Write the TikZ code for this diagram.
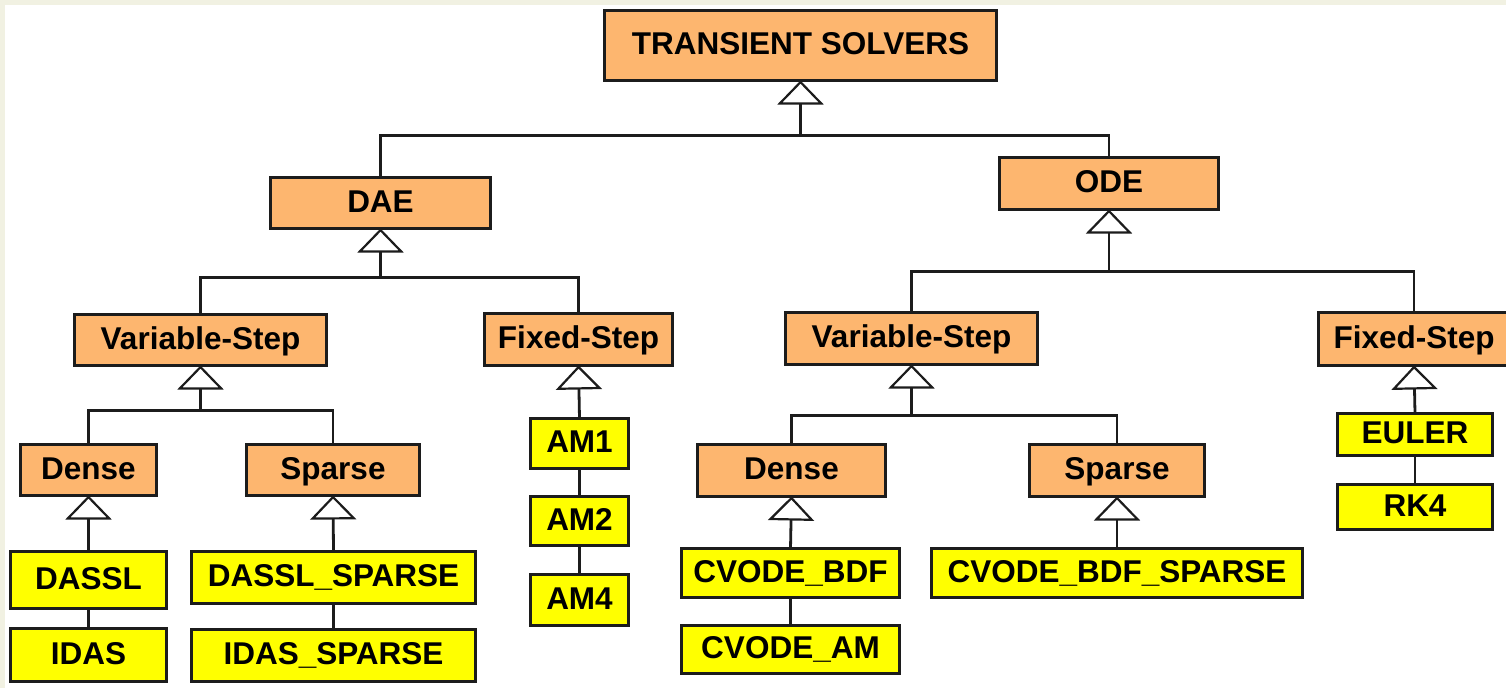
\documentclass[tikz,border=0pt]{standalone}
\usepackage{fontspec}
\setmainfont{Liberation Sans}
\usetikzlibrary{arrows.meta}

\definecolor{classfill}{HTML}{FDB66F}
\definecolor{leaffill}{HTML}{FFFF00}
\definecolor{inkline}{HTML}{1C1C1C}
\definecolor{paperedge}{HTML}{F1F1E2}

\tikzset{
  box/.style={draw=inkline, line width=3.2pt, inner sep=0pt, outer sep=0pt,
    text height=22pt, text depth=4pt,
    font=\fontsize{31.5pt}{31.5pt}\selectfont\bfseries},
  obox/.style={box, fill=classfill},
  ybox/.style={box, fill=leaffill},
  conn/.style={draw=inkline, line width=2.8pt},
  gen/.style={conn, -{Triangle[fill=white, length=24pt, width=46pt, line width=2.2pt]}},
}

\begin{document}
\begin{tikzpicture}[x=1pt, y=-1pt]
\useasboundingbox (0,0) rectangle (1506,688);
\clip (0,0) rectangle (1506,688);
\fill[paperedge] (0,0) rectangle (1506,5);
\fill[paperedge] (0,0) rectangle (5,688);

% abstract solver classes
\node[obox, minimum width=392pt, minimum height=70pt] (ts)  at (800.5,45.5) {TRANSIENT SOLVERS};
\node[obox, minimum width=220pt, minimum height=51pt] (dae) at (380.5,203)  {DAE};
\node[obox, minimum width=219pt, minimum height=52pt] (ode) at (1109,183.5) {ODE};
\node[obox, minimum width=252pt, minimum height=51pt] (dvs) at (200.5,340)  {Variable-Step};
\node[obox, minimum width=188pt, minimum height=52pt] (dfs) at (578.5,339.5) {Fixed-Step};
\node[obox, minimum width=252pt, minimum height=52pt] (ovs) at (911.5,338.5) {Variable-Step};
\node[obox, minimum width=191pt, minimum height=53pt] (ofs) at (1414,339)   {Fixed-Step};
\node[obox, minimum width=136pt, minimum height=51pt] (dd)  at (88.5,470)   {Dense};
\node[obox, minimum width=173pt, minimum height=51pt] (ds)  at (333,470)    {Sparse};
\node[obox, minimum width=188pt, minimum height=52pt] (od)  at (791.5,470.5) {Dense};
\node[obox, minimum width=175pt, minimum height=52pt] (os)  at (1117,470.5) {Sparse};

% concrete solvers
\node[ybox, minimum width=156pt, minimum height=57pt] (dassl)   at (88.5,580)   {DASSL};
\node[ybox, minimum width=156pt, minimum height=53pt] (idas)    at (88.5,655)   {IDAS};
\node[ybox, minimum width=284pt, minimum height=52pt] (dasslsp) at (333.5,577.5) {DASSL\_SPARSE};
\node[ybox, minimum width=284pt, minimum height=52pt] (idassp)  at (333.5,655.5) {IDAS\_SPARSE};
\node[ybox, minimum width=98pt,  minimum height=50pt] (am1)     at (579.5,443.5) {AM1};
\node[ybox, minimum width=98pt,  minimum height=49pt] (am2)     at (579.5,521)   {AM2};
\node[ybox, minimum width=98pt,  minimum height=51pt] (am4)     at (579.5,600)   {AM4};
\node[ybox, minimum width=218pt, minimum height=49pt] (cvbdf)   at (790.5,573)   {CVODE\_BDF};
\node[ybox, minimum width=218pt, minimum height=48pt] (cvam)    at (790.5,649.5) {CVODE\_AM};
\node[ybox, minimum width=371pt, minimum height=49pt] (cvbdfsp) at (1117,573)    {CVODE\_BDF\_SPARSE};
\node[ybox, minimum width=155pt, minimum height=42pt] (euler)   at (1415,434.5) {EULER};
\node[ybox, minimum width=155pt, minimum height=45pt] (rk4)     at (1415,507)  {RK4};

% junctions where sibling branches meet
\path (ts.south)  ++(0,55) coordinate (jts);
\path (dae.south) ++(0,49) coordinate (jdae);
\path (ode.south) ++(0,62) coordinate (jode);
\path (dvs.south) ++(0,45) coordinate (jdvs);
\path (ovs.south) ++(0,51) coordinate (jovs);

% generalisation links
\draw[conn] (dae.north) |- (jts);
\draw[gen]  (ode.north) |- (jts) -- (ts.south);

\draw[conn] (dvs.north) |- (jdae);
\draw[gen]  (dfs.north) |- (jdae) -- (dae.south);

\draw[conn] (ovs.north) |- (jode);
\draw[gen]  (ofs.north) |- (jode) -- (ode.south);

\draw[conn] (dd.north) |- (jdvs);
\draw[gen]  (ds.north) |- (jdvs) -- (dvs.south);

\draw[conn] (od.north) |- (jovs);
\draw[gen]  (os.north) |- (jovs) -- (ovs.south);

\draw[gen] (dassl.north)   -- (dd.south);
\draw[gen] (dasslsp.north) -- (ds.south);
\draw[gen] (am1.north)     -- (dfs.south);
\draw[gen] (cvbdf.north)   -- (od.south);
\draw[gen] (cvbdfsp.north) -- (os.south);
\draw[gen] (euler.north)   -- (ofs.south);

% plain links between sibling solvers
\draw[conn] (dassl.south)   -- (idas.north);
\draw[conn] (dasslsp.south) -- (idassp.north);
\draw[conn] (am1.south)     -- (am2.north);
\draw[conn] (am2.south)     -- (am4.north);
\draw[conn] (cvbdf.south)   -- (cvam.north);
\draw[conn] (euler.south)   -- (rk4.north);
\end{tikzpicture}
\end{document}
